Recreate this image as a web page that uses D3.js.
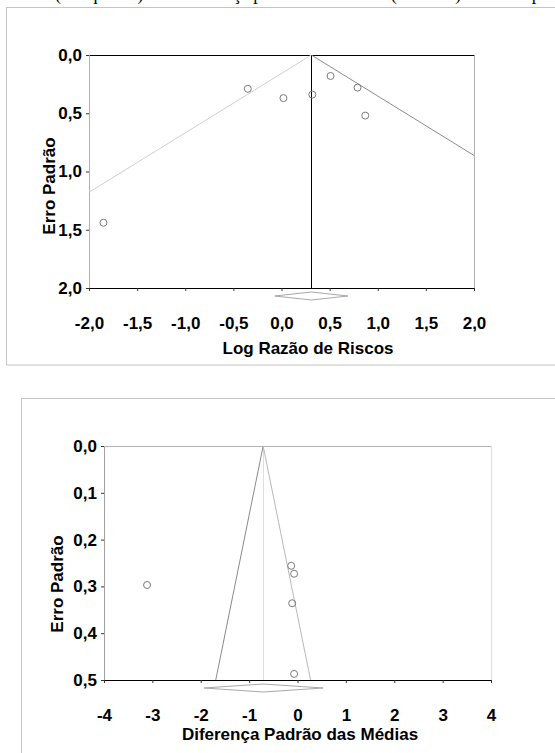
<!DOCTYPE html>
<html>
<head>
<meta charset="utf-8">
<script src="https://cdn.jsdelivr.net/npm/d3@7"></script>
<style>
  body { margin: 0; background: #fff; }
  svg { display: block; }
  text { font-family: "Liberation Sans", Arial, sans-serif; font-weight: bold; fill: #000; }
  .caption { font-family: "Liberation Serif", "Times New Roman", serif; font-weight: normal; }
</style>
</head>
<body>
<div id="chart"></div>
<script>
// --- data ---
// top funnel plot: log risk ratio vs standard error
var rrLogRR = [-1.85, -0.35, 0.02, 0.32, 0.51, 0.79, 0.87];
var rrSE = [1.44, 0.29, 0.37, 0.34, 0.18, 0.28, 0.52];
var rrPooled = 0.31;
var rrCI = [-0.07, 0.69];
var rrXTicks = [-2, -1.5, -1, -0.5, 0, 0.5, 1, 1.5, 2];
var rrYTicks = [0, 0.5, 1, 1.5, 2];

// bottom funnel plot: standardized mean difference vs standard error
var smdDiff = [-3.11, -0.13, -0.07, -0.11, -0.07];
var smdSE = [0.297, 0.256, 0.273, 0.336, 0.487];
var smdPooled = -0.71;
var smdCI = [-1.93, 0.53];
var smdXTicks = [-4, -3, -2, -1, 0, 1, 2, 3, 4];
var smdYTicks = [0, 0.1, 0.2, 0.3, 0.4, 0.5];

var width = 555, height = 753;
// portuguese decimals and a plain hyphen for the minus sign
var pt = function (f) { return function (d) { return f(d).replace(".", ",").replace("\u2212", "-"); }; };

var svg = d3.select("#chart").append("svg")
    .attr("width", width)
    .attr("height", height);

// cut-off caption line of the page above the figures
svg.append("text")
    .attr("class", "caption")
    .attr("x", 55)
    .attr("y", 0)
    .style("font-size", "18px")
    .text("(à esquerda) e da diferença padrão das médias (à direita) uso de aspirina no tratamento de pré-eclâmpsia");

// outer frames
svg.append("rect").attr("x", 6.5).attr("y", 7.5).attr("width", 560).attr("height", 357.5)
    .style("fill", "none").style("stroke", "#c4c4c4");
svg.append("rect").attr("x", 21.5).attr("y", 398.5).attr("width", 560).attr("height", 400)
    .style("fill", "none").style("stroke", "#c4c4c4");

function funnel(opt) {
    var x = d3.scaleLinear().domain(opt.xDomain).range(opt.xRange);
    var y = d3.scaleLinear().domain(opt.yDomain).range(opt.yRange);
    var g = svg.append("g");

    var clipId = "clip" + opt.id;
    svg.append("clipPath").attr("id", clipId)
        .append("rect")
        .attr("x", opt.xRange[0]).attr("y", opt.yRange[0])
        .attr("width", opt.xRange[1] - opt.xRange[0])
        .attr("height", opt.yRange[1] - opt.yRange[0]);

    // plot borders
    var x0 = opt.xRange[0] + 0.5, x1 = opt.xRange[1] + 0.5;
    var y0 = opt.yRange[0] + 0.5, y1 = opt.yRange[1] + 0.5;
    g.append("line").attr("x1", x0).attr("y1", y0).attr("x2", x1).attr("y2", y0)
        .style("stroke", opt.topColor);
    g.append("line").attr("x1", x0).attr("y1", y0).attr("x2", x0).attr("y2", y1)
        .style("stroke", opt.leftColor);
    g.append("line").attr("x1", x1).attr("y1", y0).attr("x2", x1).attr("y2", y1)
        .style("stroke", opt.rightColor);

    // pooled estimate line
    g.append("line")
        .attr("x1", Math.round(x(opt.pooled)) + 0.5).attr("y1", y(opt.yDomain[0]))
        .attr("x2", Math.round(x(opt.pooled)) + 0.5).attr("y2", y(opt.yDomain[1]))
        .style("stroke", opt.meanColor);

    // 95% pseudo confidence limits
    var seMax = opt.yDomain[1] * 2;
    var lines = g.append("g").attr("clip-path", "url(#" + clipId + ")");
    lines.append("line")
        .attr("x1", x(opt.pooled)).attr("y1", y(0))
        .attr("x2", x(opt.pooled - 1.96 * seMax)).attr("y2", y(seMax))
        .style("stroke", opt.leftFunnel);
    lines.append("line")
        .attr("x1", x(opt.pooled)).attr("y1", y(0))
        .attr("x2", x(opt.pooled + 1.96 * seMax)).attr("y2", y(seMax))
        .style("stroke", opt.rightFunnel);

    // studies
    g.selectAll("circle.study")
        .data(opt.xs)
        .enter()
        .append("circle")
        .attr("class", "study")
        .attr("cx", function (d) { return x(d); })
        .attr("cy", function (d, i) { return y(opt.ys[i]); })
        .attr("r", 3.5)
        .style("fill", "none")
        .style("stroke", "#7a7a7a");

    // pooled diamond
    var dy = opt.yRange[1] + opt.diamondOffset;
    g.append("path")
        .attr("d", "M" + x(opt.ci[0]) + "," + dy +
            "L" + x(opt.pooled) + "," + (dy - 4) +
            "L" + x(opt.ci[1]) + "," + dy +
            "L" + x(opt.pooled) + "," + (dy + 4) + "Z")
        .style("fill", "#fff")
        .style("stroke", "#a8a8a8");

    // x axis
    var xAxis = d3.axisBottom(x).tickValues(opt.xTicks).tickFormat(opt.xFormat)
        .tickSize(3).tickSizeOuter(0).tickPadding(26);
    var gx = g.append("g")
        .attr("transform", "translate(0," + opt.yRange[1] + ")")
        .call(xAxis)
        .attr("font-family", null).attr("font-size", null);
    gx.select(".domain").style("stroke", "#000");
    gx.selectAll(".tick line").style("stroke", "#333");
    gx.selectAll("text").style("font-size", "17px");

    // y axis
    var yAxis = d3.axisLeft(y).tickValues(opt.yTicks).tickFormat(opt.yFormat)
        .tickSize(3).tickSizeOuter(0).tickPadding(4);
    var gy = g.append("g")
        .attr("transform", "translate(" + opt.xRange[0] + ",0)")
        .call(yAxis)
        .attr("font-family", null).attr("font-size", null);
    gy.select(".domain").remove();
    gy.selectAll(".tick line").style("stroke", "#333");
    gy.selectAll("text").style("font-size", "17px");

    // axis titles
    g.append("text")
        .attr("x", opt.xTitlePos[0]).attr("y", opt.xTitlePos[1])
        .attr("text-anchor", "middle")
        .style("font-size", "17px")
        .text(opt.xTitle);
    g.append("text")
        .attr("transform", "translate(" + opt.yTitlePos[0] + "," + opt.yTitlePos[1] + ") rotate(-90)")
        .attr("text-anchor", "middle")
        .style("font-size", "17px")
        .text("Erro Padrão");
}

funnel({
    id: "rr",
    xs: rrLogRR, ys: rrSE, pooled: rrPooled, ci: rrCI,
    xDomain: [-2, 2], xRange: [89, 474],
    yDomain: [0, 2], yRange: [55, 288],
    xTicks: rrXTicks, yTicks: rrYTicks,
    xFormat: pt(d3.format(".1f")), yFormat: pt(d3.format(".1f")),
    topColor: "#000", leftColor: "#b0b0b0", rightColor: "#b0b0b0",
    meanColor: "#000", leftFunnel: "#d0d0d0", rightFunnel: "#8c8c8c",
    diamondOffset: 8,
    xTitle: "Log Razão de Riscos", xTitlePos: [308, 354],
    yTitlePos: [55, 186]
});

funnel({
    id: "smd",
    xs: smdDiff, ys: smdSE, pooled: smdPooled, ci: smdCI,
    xDomain: [-4, 4], xRange: [104, 491],
    yDomain: [0, 0.5], yRange: [446, 680],
    xTicks: smdXTicks, yTicks: smdYTicks,
    xFormat: pt(d3.format("d")), yFormat: pt(d3.format(".1f")),
    topColor: "#b4b4b4", leftColor: "#a0a0a0", rightColor: "#e0e0e0",
    meanColor: "#dedede", leftFunnel: "#8a8a8a", rightFunnel: "#b8b8b8",
    diamondOffset: 8,
    xTitle: "Diferença Padrão das Médias", xTitlePos: [300, 740],
    yTitlePos: [63, 584]
});
</script>
</body>
</html>
